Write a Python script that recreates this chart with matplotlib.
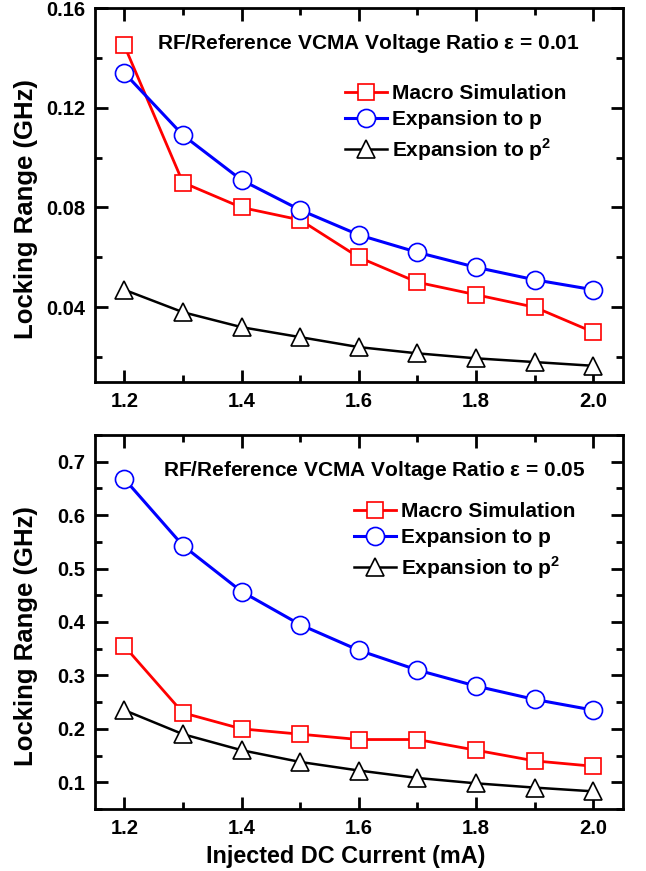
import matplotlib
matplotlib.use("Agg")
import matplotlib.pyplot as plt
from matplotlib.ticker import MultipleLocator

plt.rcParams["font.family"] = ["Liberation Sans", "DejaVu Sans"]
plt.rcParams["font.weight"] = "bold"
plt.rcParams["mathtext.fontset"] = "custom"
plt.rcParams["mathtext.rm"] = "Liberation Sans:bold"
plt.rcParams["mathtext.bf"] = "Liberation Sans:bold"

current = [1.2, 1.3, 1.4, 1.5, 1.6, 1.7, 1.8, 1.9, 2.0]

# epsilon = 0.01
macro_01 = [0.145, 0.090, 0.080, 0.075, 0.060, 0.050, 0.045, 0.040, 0.030]
exp_p_01 = [0.134, 0.109, 0.091, 0.079, 0.069, 0.062, 0.056, 0.051, 0.047]
exp_p2_01 = [0.047, 0.038, 0.032, 0.028, 0.024, 0.0215, 0.0195, 0.018, 0.0165]

# epsilon = 0.05
macro_05 = [0.355, 0.230, 0.200, 0.190, 0.180, 0.180, 0.160, 0.140, 0.130]
exp_p_05 = [0.668, 0.543, 0.457, 0.395, 0.347, 0.310, 0.280, 0.255, 0.235]
exp_p2_05 = [0.235, 0.190, 0.160, 0.138, 0.122, 0.108, 0.098, 0.090, 0.083]

LABELS = ["Macro Simulation", "Expansion to p", r"Expansion to p$^{\mathregular{2}}$"]


def draw_panel(ax, macro, exp_p, exp_p2, eps, ylim, ymajor, yminor, yfmt,
               title_x, leg_anchor):
    ms = 13
    ax.plot(current, macro, color="red", lw=2, marker="s", ms=ms - 1,
            mfc="white", mec="red", mew=1.2, label=LABELS[0])
    ax.plot(current, exp_p, color="blue", lw=2.2, marker="o", ms=ms,
            mfc="white", mec="blue", mew=1.2, label=LABELS[1])
    ax.plot(current, exp_p2, color="black", lw=1.8, marker="^", ms=ms,
            mfc="white", mec="black", mew=1.2, label=LABELS[2])

    ax.set_xlim(1.15, 2.05)
    ax.set_ylim(*ylim)
    ax.xaxis.set_major_locator(MultipleLocator(0.2))
    ax.xaxis.set_minor_locator(MultipleLocator(0.1))
    ax.yaxis.set_major_locator(MultipleLocator(ymajor))
    ax.yaxis.set_minor_locator(MultipleLocator(yminor))
    ax.set_xticklabels([f"{t:.1f}" for t in ax.get_xticks()])
    ax.set_yticklabels([yfmt.format(t) for t in ax.get_yticks()])
    ax.tick_params(which="both", direction="in", top=True, right=True,
                   width=2, labelsize=14.5, pad=7)
    ax.tick_params(which="major", length=9)
    ax.tick_params(which="minor", length=5)
    for s in ax.spines.values():
        s.set_linewidth(2)
    ax.set_ylabel("Locking Range (GHz)", fontsize=18.5, fontweight="bold")
    ax.yaxis.set_label_coords(-0.108, 0.462)

    ax.text(title_x, 0.906,
            rf"RF/Reference VCMA Voltage Ratio $\mathregular{{\varepsilon}}$ = {eps}",
            transform=ax.transAxes, ha="right", va="center",
            fontsize=15, fontweight="bold")
    ax.legend(loc="upper left", bbox_to_anchor=leg_anchor, frameon=False,
              fontsize=15, handlelength=2.0, handletextpad=0.25,
              labelspacing=0.33, borderaxespad=0)


fig = plt.figure(figsize=(6.46, 8.71), dpi=100)
ax1 = fig.add_axes([0.147, 0.5614, 0.817, 0.4294])
ax2 = fig.add_axes([0.147, 0.0712, 0.817, 0.4294])

draw_panel(ax1, macro_01, exp_p_01, exp_p2_01, "0.01", (0.01, 0.16),
           0.04, 0.02, "{:.2f}", 0.919, (0.458, 0.818))
draw_panel(ax2, macro_05, exp_p_05, exp_p2_05, "0.05", (0.05, 0.75),
           0.1, 0.05, "{:.1f}", 0.93, (0.475, 0.842))
ax2.set_xlabel("Injected DC Current (mA)", fontsize=16.8, fontweight="bold")
ax2.xaxis.set_label_coords(0.475, -0.095)

fig.savefig("out.png", dpi=100)
